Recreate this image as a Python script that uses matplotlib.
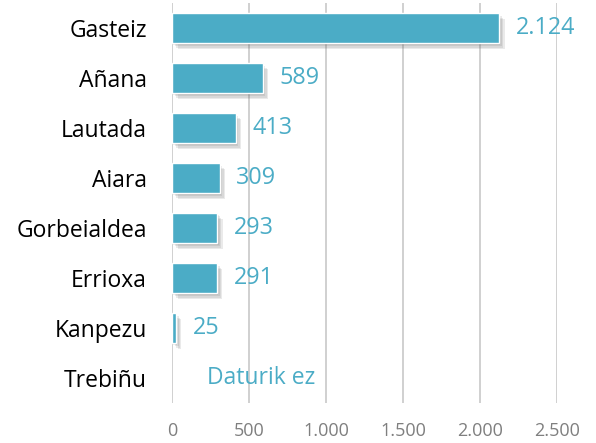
import matplotlib
matplotlib.use("Agg")
import matplotlib.pyplot as plt
import matplotlib.patheffects as pe
import numpy as np

categories = ["Gasteiz", "Añana", "Lautada", "Aiara", "Gorbeialdea", "Errioxa", "Kanpezu", "Trebiñu"]
values = [2124, 589, 413, 309, 293, 291, 25, None]
missing_label = "Daturik ez"
xticks = [0, 500, 1000, 1500, 2000, 2500]

plt.rcParams['font.family'] = ['Open Sans', 'DejaVu Sans']

def fmt(v):
    return f"{v:,.0f}".replace(",", ".")

fig = plt.figure(figsize=(5.96, 4.43), dpi=100)
ax = fig.add_axes([172/596, 1-403/443, (557-172)/596, 400/443])

bar_color = "#4BACC6"
y = np.arange(len(categories))
vals = [v if v is not None else 0 for v in values]
bars = ax.barh(y, vals, height=0.6, color=bar_color, edgecolor="white", linewidth=1.0, zorder=3)
shadow = [pe.SimplePatchShadow(offset=(k, -k - 0.5), shadow_rgbFace="#606060", alpha=0.13) for k in (1, 2, 3, 4)]
for b, v in zip(bars, values):
    if v is None:
        b.set_visible(False)
    else:
        b.set_path_effects(shadow + [pe.Normal()])

for yi, v in zip(y, values):
    if v is None:
        ax.annotate(missing_label, (0, yi), xytext=(25, 0), textcoords="offset points",
                    va="center", ha="left", color=bar_color, fontsize=16.5)
    else:
        ax.annotate(fmt(v), (v, yi), xytext=(12, 0), textcoords="offset points",
                    va="center", ha="left", color=bar_color, fontsize=16.8)

ax.set_xlim(0, 2500)
ax.set_ylim(len(categories) - 0.5, -0.5)
ax.set_xticks(xticks)
ax.set_xticklabels([fmt(t) for t in xticks], color="#7f7f7f", fontsize=13)
ax.set_yticks(y)
ax.set_yticklabels(categories, fontsize=16.5, color="black")
ax.tick_params(axis="x", length=0, pad=14)
ax.tick_params(axis="y", length=0, pad=18)
ax.grid(axis="x", color="#c8c8c8", linewidth=1.2, zorder=0)
for s in ax.spines.values():
    s.set_visible(False)

fig.savefig("out.png", dpi=100)
